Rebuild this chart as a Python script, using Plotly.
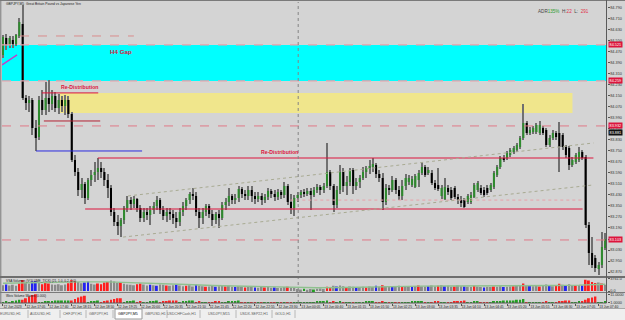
import plotly.graph_objects as go

# ---------------- data ----------------
symbol_title = "GBPJPY,M5  Great Britain Pound vs Japanese Yen"

opens = [84.448, 84.572, 84.521, 84.557, 84.528, 84.586, 84.673, 84.135, 84.099, 84.121,
         83.917, 83.852, 84.121, 84.048, 84.135, 84.092, 84.150, 84.063, 84.121, 84.077,
         84.121, 84.019, 83.684, 83.597, 83.466, 83.510, 83.408, 83.539, 83.575, 83.597,
         83.626, 83.597, 83.539, 83.481, 83.306, 83.233, 83.204, 83.248, 83.335, 83.393,
         83.364, 83.401, 83.335, 83.263, 83.306, 83.284, 83.321, 83.350, 83.393, 83.321,
         83.277, 83.306, 83.292, 83.263, 83.233, 83.306, 83.350, 83.393, 83.437, 83.423,
         83.306, 83.263, 83.306, 83.350, 83.292, 83.248, 83.292, 83.263, 83.357, 83.379,
         83.423, 83.393, 83.408, 83.473, 83.437, 83.423, 83.466, 83.423, 83.401, 83.423,
         83.393, 83.415, 83.459, 83.437, 83.415, 83.452, 83.430, 83.495, 83.379, 83.335,
         83.408, 83.430, 83.452, 83.437, 83.459, 83.430, 83.466, 83.488, 83.466, 83.495,
         83.597, 83.495, 83.357, 83.466, 83.597, 83.495, 83.524, 83.612, 83.495, 83.524,
         83.553, 83.597, 83.626, 83.633, 83.648, 83.583, 83.553, 83.379, 83.481, 83.466,
         83.539, 83.466, 83.423, 83.495, 83.524, 83.503, 83.488, 83.539, 83.590, 83.633,
         83.590, 83.590, 83.517, 83.503, 83.423, 83.401, 83.481, 83.466, 83.481, 83.415,
         83.393, 83.393, 83.379, 83.379, 83.415, 83.466, 83.481, 83.466, 83.481, 83.466,
         83.488, 83.575, 83.633, 83.699, 83.699, 83.721, 83.743, 83.757, 83.779, 83.844,
         83.953, 83.881, 83.888, 83.888, 83.881, 83.917, 83.903, 83.793, 83.844, 83.881,
         83.881, 83.866, 83.779, 83.772, 83.648, 83.670, 83.684, 83.743, 83.706, 83.212,
         83.008, 82.972, 82.892, 82.921, 83.044]

closes = [84.579, 84.521, 84.572, 84.528, 84.593, 84.688, 84.135, 84.099, 84.121, 83.917,
          83.844, 84.121, 84.048, 84.135, 84.092, 84.150, 84.063, 84.121, 84.077, 84.121,
          84.019, 83.684, 83.597, 83.466, 83.510, 83.408, 83.539, 83.575, 83.597, 83.626,
          83.597, 83.539, 83.481, 83.306, 83.233, 83.204, 83.248, 83.335, 83.393, 83.364,
          83.401, 83.335, 83.263, 83.306, 83.284, 83.321, 83.350, 83.393, 83.321, 83.277,
          83.306, 83.292, 83.263, 83.233, 83.306, 83.350, 83.393, 83.437, 83.423, 83.306,
          83.263, 83.306, 83.350, 83.292, 83.248, 83.292, 83.263, 83.357, 83.379, 83.423,
          83.393, 83.408, 83.473, 83.437, 83.423, 83.466, 83.423, 83.401, 83.423, 83.393,
          83.415, 83.459, 83.437, 83.415, 83.452, 83.430, 83.495, 83.379, 83.335, 83.408,
          83.430, 83.452, 83.437, 83.459, 83.430, 83.466, 83.488, 83.466, 83.495, 83.597,
          83.495, 83.357, 83.466, 83.597, 83.495, 83.524, 83.612, 83.495, 83.524, 83.553,
          83.597, 83.626, 83.641, 83.655, 83.583, 83.553, 83.379, 83.481, 83.466, 83.539,
          83.466, 83.423, 83.495, 83.553, 83.553, 83.546, 83.568, 83.590, 83.633, 83.575,
          83.612, 83.517, 83.481, 83.473, 83.481, 83.488, 83.452, 83.408, 83.415, 83.393,
          83.372, 83.343, 83.423, 83.430, 83.503, 83.517, 83.444, 83.430, 83.444, 83.503,
          83.590, 83.633, 83.699, 83.684, 83.735, 83.757, 83.772, 83.793, 83.844, 83.953,
          83.881, 83.903, 83.917, 83.939, 83.939, 83.881, 83.793, 83.844, 83.881, 83.852,
          83.779, 83.779, 83.721, 83.648, 83.684, 83.721, 83.743, 83.699, 83.212, 83.008,
          82.921, 82.899, 82.921, 83.052, 83.110]

highs = [84.593, 84.601, 84.586, 84.586, 84.601, 84.717, 84.812, 84.157, 84.150, 84.135,
         83.975, 84.150, 84.193, 84.252, 84.266, 84.193, 84.179, 84.164, 84.150, 84.157,
         84.150, 84.033, 83.721, 83.626, 83.553, 83.524, 83.553, 83.612, 83.670, 83.699,
         83.670, 83.626, 83.583, 83.503, 83.335, 83.284, 83.263, 83.350, 83.423, 83.415,
         83.423, 83.408, 83.357, 83.335, 83.335, 83.350, 83.379, 83.423, 83.408, 83.350,
         83.335, 83.335, 83.321, 83.306, 83.335, 83.379, 83.408, 83.452, 83.481, 83.452,
         83.335, 83.335, 83.364, 83.364, 83.321, 83.306, 83.321, 83.379, 83.408, 83.481,
         83.437, 83.437, 83.495, 83.488, 83.466, 83.495, 83.495, 83.452, 83.452, 83.444,
         83.437, 83.481, 83.473, 83.466, 83.473, 83.466, 83.524, 83.510, 83.437, 83.430,
         83.452, 83.466, 83.473, 83.481, 83.481, 83.488, 83.510, 83.503, 83.517, 83.808,
         83.612, 83.510, 83.495, 83.648, 83.626, 83.568, 83.626, 83.626, 83.553, 83.575,
         83.633, 83.641, 83.684, 83.699, 83.663, 83.612, 83.590, 83.510, 83.503, 83.568,
         83.553, 83.495, 83.539, 83.583, 83.575, 83.568, 83.583, 83.612, 83.670, 83.648,
         83.633, 83.612, 83.539, 83.626, 83.503, 83.553, 83.503, 83.488, 83.495, 83.437,
         83.423, 83.408, 83.437, 83.452, 83.517, 83.532, 83.503, 83.488, 83.503, 83.517,
         83.605, 83.648, 83.713, 83.721, 83.750, 83.772, 83.786, 83.808, 83.859, 84.092,
         83.968, 83.924, 83.932, 83.953, 83.968, 83.932, 83.917, 83.866, 83.903, 83.895,
         83.961, 83.881, 83.793, 83.786, 83.706, 83.735, 83.779, 83.757, 83.721, 83.233,
         83.124, 82.993, 82.943, 83.161, 83.153]

lows = [84.426, 84.484, 84.499, 84.499, 84.513, 84.572, 84.121, 84.048, 84.033, 83.866,
        83.750, 83.830, 84.012, 84.012, 84.033, 84.048, 84.033, 84.019, 84.033, 84.012,
        83.990, 83.670, 83.568, 83.423, 83.408, 83.364, 83.393, 83.495, 83.524, 83.539,
        83.553, 83.495, 83.408, 83.277, 83.204, 83.139, 83.124, 83.219, 83.306, 83.321,
        83.335, 83.306, 83.233, 83.233, 83.248, 83.212, 83.292, 83.321, 83.292, 83.248,
        83.233, 83.248, 83.219, 83.190, 83.204, 83.277, 83.321, 83.364, 83.393, 83.277,
        83.190, 83.219, 83.277, 83.263, 83.204, 83.219, 83.190, 83.248, 83.321, 83.350,
        83.364, 83.364, 83.379, 83.408, 83.393, 83.393, 83.379, 83.364, 83.379, 83.357,
        83.372, 83.393, 83.408, 83.386, 83.393, 83.401, 83.408, 83.357, 83.292, 83.277,
        83.379, 83.408, 83.415, 83.423, 83.321, 83.415, 83.444, 83.430, 83.444, 83.481,
        83.466, 83.306, 83.335, 83.437, 83.452, 83.430, 83.495, 83.437, 83.466, 83.481,
        83.539, 83.553, 83.583, 83.597, 83.553, 83.524, 83.321, 83.357, 83.430, 83.452,
        83.437, 83.393, 83.393, 83.466, 83.503, 83.488, 83.481, 83.488, 83.575, 83.561,
        83.575, 83.503, 83.466, 83.459, 83.401, 83.393, 83.430, 83.393, 83.401, 83.364,
        83.343, 83.335, 83.364, 83.364, 83.408, 83.452, 83.430, 83.415, 83.430, 83.452,
        83.473, 83.561, 83.619, 83.670, 83.684, 83.706, 83.728, 83.743, 83.764, 83.830,
        83.866, 83.866, 83.873, 83.873, 83.866, 83.866, 83.779, 83.779, 83.830, 83.830,
        83.597, 83.757, 83.699, 83.612, 83.633, 83.655, 83.670, 83.684, 83.190, 82.921,
        82.899, 82.870, 82.848, 82.899, 83.030]

volumes = [1800, 2000, 1700, 1900, 1600, 2300, 3400, 2600, 2200, 2900,
           3000, 2800, 2100, 2500, 2300, 2000, 1900, 2100, 1800, 2000,
           2400, 3300, 3100, 2800, 2400, 2600, 2900, 2200, 2000, 2300,
           2100, 2600, 2800, 3200, 2900, 2500, 2700, 2200, 2000, 1900,
           1800, 2100, 2300, 2000, 1700, 1900, 1800, 1600, 2000, 1900,
           1700, 1600, 1800, 2000, 1700, 1500, 1600, 1800, 1400, 1900,
           1700, 1500, 1300, 1400, 1600, 1300, 1500, 1700, 1400, 1600,
           1300, 1200, 1500, 1300, 1100, 1200, 1400, 1100, 1000, 1200,
           1100, 1300, 1000, 1100, 900, 1000, 1200, 1300, 1100, 1000,
           600, 500, 700, 400, 600, 500, 700, 800, 600, 1300,
           1200, 1600, 1400, 1700, 1500, 1200, 1400, 1300, 1100, 1200,
           1300, 1100, 1400, 1200, 1600, 1300, 1800, 1500, 1200, 1300,
           1400, 1600, 1300, 1500, 1400, 1200, 1500, 1700, 1400, 1300,
           1500, 1700, 1400, 1600, 1800, 1500, 1600, 1300, 1400, 1700,
           1500, 1400, 1300, 1200, 1600, 1400, 1200, 1100, 1300, 1200,
           1400, 1300, 1500, 1200, 1300, 1400, 1500, 1600, 1700, 2300,
           1800, 1600, 1500, 1700, 1400, 1600, 2000, 1700, 1500, 1600,
           2200, 1900, 1800, 2100, 1700, 1600, 1800, 1700, 3500, 3200,
           2800, 2500, 2600, 2300, 1900]

# VSA class of each volume bar: n = normal, r = high, b = low/test, e = up-climax
volume_class = ("nbnnnrrnnb" "bnrrrnnnnn" "rrrnnbbnnr" "rrrnnnrnnn" "nrrnnbnbnn"
                "rnnbnnrnnb" "nnrnnbnnrn" "nbnnrnnbnn" "rnnbnnnrnn" "nnennennnr"
                "rnbnnrnnbn" "nrnnbnrnnb" "nnrnnbnrnn" "bnnrnbnnrn" "nbnnrnnbnn"
                "rnnbnnrnnr" "nbnnrnnbnr" "rnbnnrnbrr" "rrnrn")

volume_ma_bar = [0, 8, 16, 24, 32, 40, 48, 56, 64, 72, 80, 88, 96, 104, 112, 120,
                 128, 136, 144, 152, 160, 168, 176, 184]
volume_ma = [2400, 2600, 2700, 2800, 2800, 2600, 2300, 2000, 1700, 1500, 1300, 1200,
             1000, 1100, 1300, 1450, 1500, 1550, 1550, 1500, 1600, 1700, 1800, 2100]

# Weis wave volume (thousands), + = up wave, - = down wave
weis_wave = [1, 2, 1, 2, 3, 4, -4, -6, -8, -10, -11,
             1, 1, 2, 2, 2, 3, 3, 3, 3, 3,
             -3, -5, -7, -8, -9, 1, 2, 2, 3,
             -1, -2, -3, -4, -5, -6, -6, 1, 2, 2, 3,
             -1, -2, 1, 1, 2, 2, 3, -1, -2, -2, -3, -3, -3,
             1, 2, 2, 3, 3, -1, -2, 1, 1, -1, -1, -2, -2,
             1, 1, 2, 2, 2, 3, -1, -1, 1, -1, -1, 1, -1, 1, 1, -1, -1, 1, -1, 1, -1, -1,
             1, 1, 1, 1, 1, 1, 1, 2, 2, 2, 3,
             -1, -2, 1, 2, -1, 1, 1, -1, 1, 1, 1, 2, 2, 2, -1, -1, -2, 1, -1, 1, -1, -1,
             1, 1, 1, 2, 2, 2, 2, -1, 1, -1, -2, -2, 1, 1, -1, -1, -2, -2, -2, -3,
             1, 1, 2, 2, -1, -1, -1, 1, 2, 2, 2, 3, 3, 3, 3, 4, 4, 5,
             -1, 1, 1, 1, 1, -1, -2, 1, 1, -1, -2, -2, -3, -3, 1, 1, 2,
             -2, -4, -6, -7, -8, 1, 1, 2]

price_ticks = [84.79, 84.71, 84.63, 84.55, 84.47, 84.39, 84.31, 84.23, 84.15, 84.07,
               83.99, 83.91, 83.83, 83.75, 83.67, 83.59, 83.51, 83.43, 83.35, 83.27,
               83.19, 83.11, 83.03, 82.95, 82.87]

time_tick_bar = [0, 7, 14, 21, 28, 35, 42, 49, 56, 63, 70, 77, 84, 91, 98, 105, 112,
                 119, 126, 133, 140, 147, 154, 161, 168, 175, 182]
time_tick_labels = ["12 Jun 2023", "12 Jun 17:05", "12 Jun 17:40", "12 Jun 18:15",
                    "12 Jun 18:50", "12 Jun 19:25", "12 Jun 20:00", "12 Jun 20:35",
                    "12 Jun 21:10", "12 Jun 21:45", "12 Jun 22:20", "12 Jun 22:55",
                    "12 Jun 23:30", "13 Jun 00:05", "13 Jun 00:40", "13 Jun 01:15",
                    "13 Jun 01:50", "13 Jun 02:25", "13 Jun 03:00", "13 Jun 03:35",
                    "13 Jun 04:10", "13 Jun 04:45", "13 Jun 05:20", "13 Jun 05:55",
                    "13 Jun 06:30", "13 Jun 07:05", "13 Jun 07:40"]

# zones and levels drawn on the chart (bar index, price)
h4_gap = (84.259, 84.521)
redistribution_zone = (17.4, 174.0, 84.026, 84.172)
dashed_levels = [83.932, 83.103]
day_separator_bar = 90.2
segments = [  # (bar0, price0, bar1, price1, color, width, dash)
    (5.2, 84.586, 40.0, 84.586, "#D98C8C", 1, "dash"),
    (11.9, 84.172, 29.1, 84.172, "#DC143C", 1, "solid"),
    (12.5, 83.968, 29.7, 83.968, "#B22234", 1, "solid"),
    (10.1, 83.750, 42.5, 83.750, "#2B2BE0", 1, "solid"),
    (29.0, 83.699, 180.4, 83.699, "#DC143C", 1.2, "solid"),
    (25.1, 83.328, 177.1, 83.328, "#DC143C", 1.2, "solid"),
    (87.8, 83.393, 177.4, 83.393, "#E8A0A8", 1, "dot"),
    (38.2, 83.423, 180.4, 83.808, "#A8AA92", 1, "dot"),
    (36.7, 83.124, 180.4, 83.503, "#A8AA92", 1, "dot"),
    (-0.3, 84.376, 4.3, 84.448, "#C040C8", 1.5, "solid"),
]
axis_price_boxes = [(84.521, "#DC143C"), (84.259, "#DC143C"), (83.932, "#DC143C"),
                    (83.881, "#111111"), (83.103, "#DC143C")]

tabs = ["EURUSD,H1", "AUDUSD,H1", "CHFJPY,H1", "GBPJPY,H1", "GBPJPY,M5", "GBPUSD,H1",
        "USDCHFCash,H1", "USDJPY,M15", "USDX-SEP22,H1", "GOLD,H1"]
active_tab = "GBPJPY,M5"

# ---------------- styling ----------------
W, H = 625, 320
BG = "#D4D4D4"
BULL, BEAR = "#2E8B2E", "#000000"
FONT = "Arial"
VCOL = {"n": "#8A8A8A", "r": "#FF1E1E", "b": "#2323F0", "e": "#22A022"}


def py(px):  # pixel row -> paper y
    return 1 - px / H


def pxx(px):
    return px / W


idx = list(range(len(opens)))
body_base = [min(o, c) for o, c in zip(opens, closes)]
body_len = [max(abs(c - o), 0.004) for o, c in zip(opens, closes)]
body_col = [BULL if c > o else BEAR for o, c in zip(opens, closes)]
wick_len = [h - l for h, l in zip(highs, lows)]

fig = go.Figure()
fig.add_trace(go.Bar(x=idx, y=wick_len, base=lows, width=0.32,
                     marker=dict(color="#707070", line=dict(width=0)),
                     xaxis="x", yaxis="y", hoverinfo="skip"))
fig.add_trace(go.Bar(x=idx, y=body_len, base=body_base, width=0.62,
                     marker=dict(color=body_col, line=dict(width=0)),
                     xaxis="x", yaxis="y", hoverinfo="skip"))
fig.add_trace(go.Bar(x=idx, y=volumes, width=0.6,
                     marker=dict(color=[VCOL[k] for k in volume_class], line=dict(width=0)),
                     xaxis="x", yaxis="y2", hoverinfo="skip"))
fig.add_trace(go.Scatter(x=volume_ma_bar, y=volume_ma, mode="lines",
                         line=dict(color="#8FC08F", width=1.4),
                         xaxis="x", yaxis="y2", hoverinfo="skip"))
fig.add_trace(go.Bar(x=idx, y=[abs(w) for w in weis_wave], width=0.6,
                     marker=dict(color=["#22A022" if w > 0 else "#FF2222" for w in weis_wave],
                                 line=dict(width=0)),
                     xaxis="x", yaxis="y3", hoverinfo="skip"))

shapes = []
# H4 gap
shapes.append(dict(type="rect", xref="x domain", yref="y", x0=0, x1=1,
                   y0=h4_gap[0], y1=h4_gap[1], fillcolor="#00FFFF", line=dict(width=0),
                   layer="below"))
for lv in h4_gap:
    shapes.append(dict(type="line", xref="x domain", yref="y", x0=0, x1=1, y0=lv, y1=lv,
                       line=dict(color="#E8A0AA", width=1.2, dash="dash")))
# re-distribution zone
x0, x1, y0, y1 = redistribution_zone
shapes.append(dict(type="rect", xref="x", yref="y", x0=x0, x1=x1, y0=y0, y1=y1,
                   fillcolor="#F0E68C", line=dict(width=0), layer="below"))
for lv in dashed_levels:
    shapes.append(dict(type="line", xref="x domain", yref="y", x0=0, x1=1, y0=lv, y1=lv,
                       line=dict(color="#E07A88", width=1, dash="dash")))
for b0, p0, b1, p1, col, wd, ds in segments:
    shapes.append(dict(type="line", xref="x", yref="y", x0=b0, x1=b1, y0=p0, y1=p1,
                       line=dict(color=col, width=wd, dash=ds)))
# day separator
shapes.append(dict(type="line", xref="x", yref="paper", x0=day_separator_bar,
                   x1=day_separator_bar, y0=py(303), y1=py(2),
                   line=dict(color="#858585", width=1, dash="dot")))
# window frame & panel separators
shapes += [
    # tab bar (kept below so that nothing is hidden)
    dict(type="rect", xref="paper", yref="paper", x0=0, x1=1, y0=0, y1=py(308.5),
         fillcolor="#EFEFEF", line=dict(width=0), layer="below"),
    dict(type="line", xref="paper", yref="paper", x0=0, x1=1, y0=py(308.5), y1=py(308.5),
         line=dict(color="#A8A8A8", width=1)),
    dict(type="line", xref="paper", yref="paper", x0=0, x1=1, y0=py(0.5), y1=py(0.5),
         line=dict(color="#7A7A7A", width=1)),
    dict(type="line", xref="paper", yref="paper", x0=pxx(0.8), x1=pxx(0.8), y0=py(303), y1=1,
         line=dict(color="#7A7A7A", width=1)),
    dict(type="line", xref="paper", yref="paper", x0=0, x1=1, y0=py(277), y1=py(277),
         line=dict(color="#6E6E6E", width=2)),
    dict(type="line", xref="paper", yref="paper", x0=0, x1=1, y0=py(292.5), y1=py(292.5),
         line=dict(color="#7A7A7A", width=1)),
    dict(type="line", xref="paper", yref="paper", x0=pxx(606.5), x1=pxx(606.5), y0=py(303),
         y1=1, line=dict(color="#5A5A5A", width=1)),
    dict(type="line", xref="paper", yref="paper", x0=0, x1=pxx(606.5), y0=py(303), y1=py(303),
         line=dict(color="#5A5A5A", width=1)),
]

annotations = []
# tabs
tab_centers = [10, 40, 72, 98, 128, 155, 181, 219, 254, 283]
tab_seps = [28, 60, 86, 113, 167, 200, 236, 272, 295]
for s in tab_seps:
    shapes.append(dict(type="line", xref="paper", yref="paper", x0=pxx(s), x1=pxx(s),
                       y0=py(318), y1=py(310), line=dict(color="#B8B8B8", width=1)))
shapes.append(dict(type="rect", xref="paper", yref="paper", x0=pxx(115), x1=pxx(142),
                   y0=py(319), y1=py(309), fillcolor="#FFFFFF",
                   line=dict(color="#9A9A9A", width=1)))
for name, cx in zip(tabs, tab_centers):
    annotations.append(dict(xref="paper", yref="paper", x=pxx(cx), y=py(314), text=name,
                            showarrow=False, xanchor="center", yanchor="middle",
                            font=dict(family=FONT, size=3.6,
                                      color="#000000" if name == active_tab else "#5A5A5A")))

# chart texts
annotations += [
    dict(xref="paper", yref="paper", x=pxx(4), y=py(4.5), text=symbol_title, showarrow=False,
         xanchor="left", yanchor="middle", font=dict(family=FONT, size=3.3, color="#222222")),
    dict(xref="paper", yref="paper", x=pxx(591), y=py(11.5),
         text=("ADR<span style='color:#2E9B2E'>135%</span>  H:<span style='color:#E0304A'>22</span>"
               "  L:  <span style='color:#E0304A'>291</span>"),
         showarrow=False, xanchor="right", yanchor="middle",
         font=dict(family=FONT, size=4.6, color="#444444")),
    dict(xref="x", yref="y", x=36, y=84.470, text="<b>H4 Gap</b>", showarrow=False,
         font=dict(family=FONT, size=6.2, color="#DC143C")),
    dict(xref="x", yref="y", x=23.5, y=84.213, text="<b>Re-Distribution</b>", showarrow=False,
         font=dict(family=FONT, size=5.2, color="#DC143C")),
    dict(xref="x", yref="y", x=84.5, y=83.740, text="<b>Re-Distribution</b>", showarrow=False,
         font=dict(family=FONT, size=5.2, color="#DC143C")),
    dict(xref="paper", yref="paper", x=pxx(4), y=py(280.5),
         text="VSA Volumes (VOLUME_TICK) (21, 1.0, 0.2, 2.0)", showarrow=False,
         xanchor="left", yanchor="middle", font=dict(family=FONT, size=3.2, color="#222222")),
    dict(xref="paper", yref="paper", x=pxx(4), y=py(295.5),
         text="Weis Volume Waves (0.000)", showarrow=False,
         xanchor="left", yanchor="middle", font=dict(family=FONT, size=3.2, color="#222222")),
]
for price, col in axis_price_boxes:
    annotations.append(dict(xref="paper", yref="y", x=pxx(607.5), y=price,
                            text=f"{price:.3f}", showarrow=False, xanchor="left",
                            yanchor="middle", bgcolor=col, borderpad=0.6,
                            font=dict(family=FONT, size=3.8, color="#FFFFFF")))

axis_font = dict(family=FONT, size=3.8, color="#333333")
common = dict(showgrid=False, zeroline=False, showline=False, automargin=False,
              ticks="outside", tickcolor="#555555")
fig.update_layout(
    width=W, height=H, margin=dict(l=0, r=0, t=0, b=0, pad=0, autoexpand=False),
    paper_bgcolor=BG, plot_bgcolor=BG, showlegend=False, barmode="overlay",
    xaxis=dict(domain=[pxx(2), pxx(606.5)], range=[-0.3, 184.4], anchor="y3",
               tickvals=time_tick_bar, ticktext=time_tick_labels, ticklen=1.5,
               tickangle=0, ticklabelposition="outside right",
               tickfont=dict(family=FONT, size=3.3, color="#222222"), **common),
    yaxis=dict(domain=[py(276), py(2)], range=[82.841, 84.833], side="right", anchor="x",
               tickvals=price_ticks, ticktext=[f"{v:.3f}" for v in price_ticks],
               ticklen=2, tickfont=axis_font, **common),
    yaxis2=dict(domain=[py(292), py(278)], range=[-300, 4000], side="right", anchor="x",
                tickvals=[3761, 0], ticktext=["3761.0", "0.0"], ticklen=2,
                tickfont=axis_font, **common),
    yaxis3=dict(domain=[py(303), py(293)], range=[0, 12.5], side="right", anchor="x",
                tickvals=[11, 1], ticktext=["11.0000", "1.0000"], ticklen=2,
                tickfont=axis_font, **common),
    shapes=shapes, annotations=annotations,
)

fig.write_html("out.html")
